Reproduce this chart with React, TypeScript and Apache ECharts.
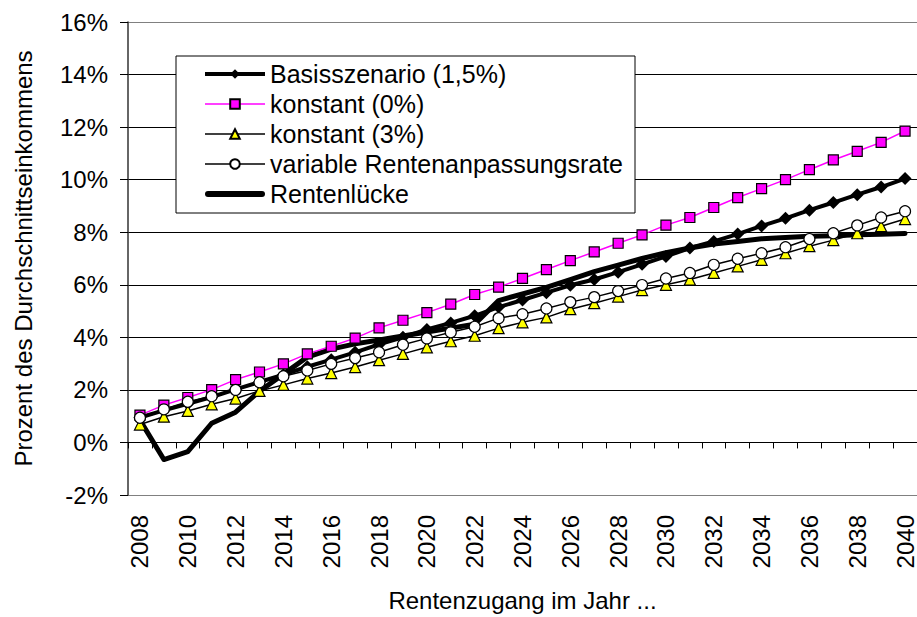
import React, { useEffect, useRef } from "react";
import * as echarts from "echarts";

const years = [
  "2008","2009","2010","2011","2012","2013","2014","2015","2016","2017","2018",
  "2019","2020","2021","2022","2023","2024","2025","2026","2027","2028","2029",
  "2030","2031","2032","2033","2034","2035","2036","2037","2038","2039","2040",
];

const basis = [0.95,1.22,1.47,1.73,2.02,2.3,2.58,2.88,3.15,3.43,3.73,4.0,4.3,4.55,4.82,5.15,5.42,5.7,5.98,6.2,6.48,6.78,7.08,7.4,7.65,7.93,8.24,8.53,8.84,9.13,9.43,9.72,10.04];
const konstant0 = [1.04,1.42,1.71,2.01,2.39,2.68,2.99,3.37,3.66,3.97,4.36,4.65,4.94,5.26,5.63,5.91,6.24,6.58,6.92,7.25,7.58,7.9,8.27,8.56,8.94,9.32,9.66,10.0,10.38,10.75,11.08,11.42,11.85];
const konstant3 = [0.68,0.98,1.2,1.45,1.67,1.96,2.19,2.43,2.64,2.87,3.13,3.37,3.62,3.85,4.06,4.35,4.57,4.76,5.07,5.3,5.55,5.8,6.0,6.2,6.45,6.7,6.95,7.2,7.47,7.7,7.96,8.23,8.5];
const variable = [0.94,1.26,1.55,1.76,2.0,2.29,2.52,2.74,2.99,3.21,3.43,3.72,3.96,4.19,4.4,4.73,4.88,5.1,5.34,5.53,5.76,5.99,6.24,6.45,6.76,6.99,7.2,7.43,7.74,7.96,8.26,8.56,8.8];
const rentenluecke = [0.85,-0.65,-0.35,0.73,1.15,1.95,2.6,3.25,3.55,3.75,3.9,4.05,4.2,4.35,4.5,5.4,5.65,5.9,6.2,6.5,6.75,7.0,7.22,7.4,7.55,7.65,7.75,7.8,7.85,7.87,7.9,7.92,7.95];

const seriesNames = [
  "Basisszenario (1,5%)",
  "konstant (0%)",
  "konstant (3%)",
  "variable Rentenanpassungsrate",
  "Rentenlücke",
];

const FONT = "'Liberation Sans', Arial, sans-serif";

export default function App() {
  const ref = useRef<HTMLDivElement>(null);
  useEffect(() => {
    if (!ref.current) return;
    const chart = echarts.init(ref.current, null, { renderer: "svg" });
    chart.setOption({
      animation: false,
      backgroundColor: "#ffffff",
      textStyle: { fontFamily: FONT, color: "#000" },
      grid: { left: 128, top: 22, width: 792, height: 476, containLabel: false },
      legend: {
        orient: "vertical",
        left: 176,
        top: 56,
        padding: [3, 12, 4, 27],
        borderColor: "#000",
        borderWidth: 1,
        backgroundColor: "#fff",
        itemWidth: 60,
        itemHeight: 12,
        itemGap: 0,
        selectedMode: false,
        textStyle: { fontSize: 25, lineHeight: 30, color: "#000", fontFamily: FONT },
        data: [
          { name: seriesNames[0], lineStyle: { width: 4, color: "#000" } },
          { name: seriesNames[1], lineStyle: { width: 1.5, color: "#ff00ff" } },
          { name: seriesNames[2], lineStyle: { width: 1.5, color: "#000" } },
          { name: seriesNames[3], lineStyle: { width: 1.5, color: "#000" } },
          { name: seriesNames[4], icon: "path://M3,0 L57,0 A3,3 0 0 1 57,6 L3,6 A3,3 0 0 1 3,0 Z" },
        ],
      },
      xAxis: [
        {
          type: "category",
          data: years,
          boundaryGap: true,
          axisLine: { onZero: true, lineStyle: { color: "#000", width: 1 } },
          axisTick: { show: true, interval: 0, length: 6, lineStyle: { color: "#000" } },
          axisLabel: { show: false },
          splitLine: { show: false },
        },
        {
          type: "category",
          data: years,
          boundaryGap: true,
          position: "bottom",
          axisLine: { show: false, onZero: false },
          axisTick: { show: false },
          axisLabel: {
            show: true,
            rotate: 90,
            interval: 1,
            margin: 20,
            fontSize: 24,
            color: "#000",
            fontFamily: FONT,
          },
          name: "Rentenzugang im Jahr ...",
          nameLocation: "middle",
          nameGap: 93,
          nameTextStyle: { fontSize: 24, color: "#000", fontFamily: FONT },
        },
      ],
      yAxis: {
        type: "value",
        min: -2,
        max: 16,
        interval: 2,
        axisLine: { show: true, lineStyle: { color: "#333", width: 1.5 } },
        axisTick: { show: true, length: 8, lineStyle: { color: "#000" } },
        axisLabel: {
          formatter: "{value}%",
          fontSize: 24,
          margin: 20,
          color: "#000",
          fontFamily: FONT,
        },
        splitLine: {
          show: true,
          lineStyle: {
            color: ["#808080", "#000", "#000", "#000", "#000", "#000", "#000", "#000", "#000", "#808080"],
            width: 1,
          },
        },
        name: "Prozent des Durchschnittseinkommens",
        nameLocation: "middle",
        nameGap: 93,
        nameTextStyle: { fontSize: 24, color: "#000", fontFamily: FONT },
      },
      series: [
        {
          name: seriesNames[0],
          type: "line",
          data: basis,
          z: 2,
          symbol: "diamond",
          symbolSize: 13,
          lineStyle: { color: "#000", width: 4 },
          itemStyle: { color: "#000", borderColor: "#000", borderWidth: 0 },
          showAllSymbol: true,
        },
        {
          name: seriesNames[4],
          type: "line",
          data: rentenluecke,
          z: 3,
          symbol: "none",
          lineStyle: { color: "#000", width: 5, cap: "round", join: "round" },
          itemStyle: { color: "#000" },
        },
        {
          name: seriesNames[1],
          type: "line",
          data: konstant0,
          z: 4,
          symbol: "rect",
          symbolSize: 10,
          lineStyle: { color: "#ff00ff", width: 1.5 },
          itemStyle: { color: "#ff00ff", borderColor: "#000", borderWidth: 1.2 },
          showAllSymbol: true,
        },
        {
          name: seriesNames[2],
          type: "line",
          data: konstant3,
          z: 4,
          symbol: "triangle",
          symbolSize: 11,
          lineStyle: { color: "#000", width: 1.5 },
          itemStyle: { color: "#ffff00", borderColor: "#000", borderWidth: 1.2 },
          showAllSymbol: true,
        },
        {
          name: seriesNames[3],
          type: "line",
          data: variable,
          z: 4,
          symbol: "circle",
          symbolSize: 11,
          lineStyle: { color: "#000", width: 1.5 },
          itemStyle: { color: "#ffffff", borderColor: "#000", borderWidth: 1.2 },
          showAllSymbol: true,
        },
      ],
    });
    return () => chart.dispose();
  }, []);
  return (
    <div
      ref={ref}
      style={{ position: "fixed", left: 0, top: 0, width: 917, height: 617 }}
    />
  );
}
